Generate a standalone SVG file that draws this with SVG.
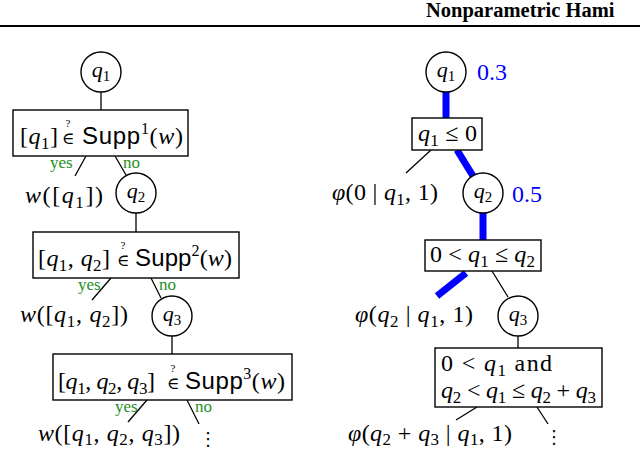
<svg xmlns="http://www.w3.org/2000/svg" width="640" height="450" viewBox="0 0 640 450">
<style>
.m{font-family:"Liberation Serif","DejaVu Serif",serif;font-size:24px;fill:#000}
.c{font-size:22px}
.i{font-style:italic}
.s{font-size:17px}
.cs{font-size:15px}
.sf{font-family:"Liberation Sans",sans-serif}
.sup{font-size:16px}
.el{font-size:17px}
.qm{font-size:11px}
.yn{font-family:"Liberation Serif",serif;font-size:17px;fill:#1f8f1f}
.bl{fill:#0000ff}
.node{fill:#fff;stroke:#000;stroke-width:1.4}
.e{stroke:#000;stroke-width:1.3;fill:none}
.hl{stroke:#0000ff;stroke-width:7;fill:none}
.dots{font-family:"DejaVu Sans",sans-serif;font-size:18px;fill:#000}
</style>

<g id="header">
<text x="426" y="17" font-family="Liberation Serif, serif" font-weight="bold" font-size="20.5">Nonparametric Hami</text>
<line x1="0" y1="26" x2="640" y2="26" stroke="#000" stroke-width="2"/>
</g>

<g id="connectors">
<!-- left tree -->
<line class="e" x1="101" y1="92" x2="101" y2="110"/>
<line class="e" x1="86" y1="156" x2="75" y2="176"/>
<line class="e" x1="115" y1="156" x2="126" y2="175"/>
<line class="e" x1="136" y1="213" x2="136" y2="232"/>
<line class="e" x1="111" y1="278" x2="92" y2="300"/>
<line class="e" x1="151" y1="278" x2="161" y2="298"/>
<line class="e" x1="172" y1="336" x2="172" y2="354"/>
<line class="e" x1="147" y1="400" x2="128" y2="422"/>
<line class="e" x1="187" y1="400" x2="199" y2="424"/>
<!-- right tree -->
<line class="hl" x1="446" y1="92" x2="446" y2="118"/>
<line class="e" x1="431" y1="150" x2="406" y2="173"/>
<line class="hl" x1="457" y1="150" x2="473" y2="176"/>
<line class="hl" x1="483" y1="213" x2="483" y2="240"/>
<line class="hl" x1="466" y1="273" x2="437" y2="296"/>
<line class="e" x1="492" y1="271" x2="508" y2="297"/>
<line class="e" x1="518" y1="336" x2="518" y2="348"/>
<line class="e" x1="477" y1="407" x2="456" y2="420"/>
<line class="e" x1="537" y1="407" x2="548" y2="424"/>
<!-- edge labels -->
<text class="yn" x="50" y="168">yes</text>
<text class="yn" x="123" y="168">no</text>
<text class="yn" x="78" y="290">yes</text>
<text class="yn" x="159" y="290">no</text>
<text class="yn" x="115" y="412">yes</text>
<text class="yn" x="195" y="412">no</text>
</g>

<!-- left tree nodes -->
<g id="L_q1">
<circle class="node" cx="101" cy="72" r="20"/>
<text class="m c" x="101" y="77" text-anchor="middle"><tspan class="i">q</tspan><tspan class="cs" dy="4">1</tspan></text>
</g>
<g id="L_test1">
<rect class="node" x="13" y="110" width="175" height="46"/>
<text class="m" x="20" y="144" textLength="38" lengthAdjust="spacing">[<tspan class="i">q</tspan><tspan class="s" dy="5">1</tspan><tspan dy="-5">]</tspan></text>
<text class="m qm" x="68" y="127" text-anchor="middle">?</text>
<text class="m el" x="68" y="144" text-anchor="middle">∈</text>
<text class="m" x="82" y="144" textLength="101" lengthAdjust="spacing"><tspan class="sf">Supp</tspan><tspan class="sup" dy="-10">1</tspan><tspan dy="10">(</tspan><tspan class="i">w</tspan>)</text>
</g>
<g id="L_leaf1">
<text class="m" x="25" y="203" textLength="78" lengthAdjust="spacing"><tspan class="i">w</tspan>([<tspan class="i">q</tspan><tspan class="s" dy="5">1</tspan><tspan dy="-5">])</tspan></text>
</g>
<g id="L_q2">
<circle class="node" cx="136" cy="193" r="20"/>
<text class="m c" x="136" y="198" text-anchor="middle"><tspan class="i">q</tspan><tspan class="cs" dy="4">2</tspan></text>
</g>
<g id="L_test2">
<rect class="node" x="33" y="232" width="206" height="46"/>
<text class="m" x="38" y="266" textLength="72" lengthAdjust="spacing">[<tspan class="i">q</tspan><tspan class="s" dy="5">1</tspan><tspan dy="-5">, </tspan><tspan class="i">q</tspan><tspan class="s" dy="5">2</tspan><tspan dy="-5">]</tspan></text>
<text class="m qm" x="123" y="249" text-anchor="middle">?</text>
<text class="m el" x="123" y="266" text-anchor="middle">∈</text>
<text class="m" x="135" y="266" textLength="97" lengthAdjust="spacing"><tspan class="sf">Supp</tspan><tspan class="sup" dy="-10">2</tspan><tspan dy="10">(</tspan><tspan class="i">w</tspan>)</text>
</g>
<g id="L_leaf2">
<text class="m" x="20" y="322" textLength="108" lengthAdjust="spacing"><tspan class="i">w</tspan>([<tspan class="i">q</tspan><tspan class="s" dy="5">1</tspan><tspan dy="-5">, </tspan><tspan class="i">q</tspan><tspan class="s" dy="5">2</tspan><tspan dy="-5">])</tspan></text>
</g>
<g id="L_q3">
<circle class="node" cx="172" cy="316" r="20"/>
<text class="m c" x="172" y="321" text-anchor="middle"><tspan class="i">q</tspan><tspan class="cs" dy="4">3</tspan></text>
</g>
<g id="L_test3">
<rect class="node" x="53" y="354" width="239" height="46"/>
<text class="m" x="58" y="389" textLength="97" lengthAdjust="spacing">[<tspan class="i">q</tspan><tspan class="s" dy="5">1</tspan><tspan dy="-5">, </tspan><tspan class="i">q</tspan><tspan class="s" dy="5">2</tspan><tspan dy="-5">, </tspan><tspan class="i">q</tspan><tspan class="s" dy="5">3</tspan><tspan dy="-5">]</tspan></text>
<text class="m qm" x="173" y="372" text-anchor="middle">?</text>
<text class="m el" x="173" y="389" text-anchor="middle">∈</text>
<text class="m" x="185" y="389" textLength="100" lengthAdjust="spacing"><tspan class="sf">Supp</tspan><tspan class="sup" dy="-10">3</tspan><tspan dy="10">(</tspan><tspan class="i">w</tspan>)</text>
</g>
<g id="L_leaf3">
<text class="m" x="38" y="441" textLength="142" lengthAdjust="spacing"><tspan class="i">w</tspan>([<tspan class="i">q</tspan><tspan class="s" dy="4">1</tspan><tspan dy="-4">, </tspan><tspan class="i">q</tspan><tspan class="s" dy="4">2</tspan><tspan dy="-4">, </tspan><tspan class="i">q</tspan><tspan class="s" dy="4">3</tspan><tspan dy="-4">])</tspan></text>
</g>
<g id="L_more">
<text class="dots" x="208" y="445" text-anchor="middle">⋮</text>
</g>

<!-- right tree nodes -->
<g id="R_q1">
<circle class="node" cx="446" cy="72" r="20"/>
<text class="m c" x="446" y="77" text-anchor="middle"><tspan class="i">q</tspan><tspan class="cs" dy="4">1</tspan></text>
<text class="m bl" x="477" y="80" textLength="30" lengthAdjust="spacing">0.3</text>
</g>
<g id="R_test1">
<rect class="node" x="412" y="118" width="70" height="32"/>
<text class="m" x="418" y="141" textLength="59" lengthAdjust="spacing"><tspan class="i">q</tspan><tspan class="s" dy="5">1</tspan><tspan dy="-5"> ≤ 0</tspan></text>
</g>
<g id="R_leaf1">
<text class="m" x="332" y="200" textLength="106" lengthAdjust="spacing"><tspan class="i">φ</tspan>(0 | <tspan class="i">q</tspan><tspan class="s" dy="5">1</tspan><tspan dy="-5">, 1)</tspan></text>
</g>
<g id="R_q2">
<circle class="node" cx="483" cy="193" r="20"/>
<text class="m c" x="483" y="198" text-anchor="middle"><tspan class="i">q</tspan><tspan class="cs" dy="4">2</tspan></text>
<text class="m bl" x="512" y="202" textLength="30" lengthAdjust="spacing">0.5</text>
</g>
<g id="R_test2">
<rect class="node" x="425" y="240" width="116" height="31"/>
<text class="m" x="430" y="262" textLength="105" lengthAdjust="spacing">0 &lt; <tspan class="i">q</tspan><tspan class="s" dy="5">1</tspan><tspan dy="-5"> ≤ </tspan><tspan class="i">q</tspan><tspan class="s" dy="5">2</tspan></text>
</g>
<g id="R_leaf2">
<text class="m" x="355" y="322" textLength="118" lengthAdjust="spacing"><tspan class="i">φ</tspan>(<tspan class="i">q</tspan><tspan class="s" dy="5">2</tspan><tspan dy="-5"> | </tspan><tspan class="i">q</tspan><tspan class="s" dy="5">1</tspan><tspan dy="-5">, 1)</tspan></text>
</g>
<g id="R_q3">
<circle class="node" cx="518" cy="316" r="20"/>
<text class="m c" x="518" y="321" text-anchor="middle"><tspan class="i">q</tspan><tspan class="cs" dy="4">3</tspan></text>
</g>
<g id="R_test3">
<rect class="node" x="435" y="348" width="167" height="59"/>
<text class="m" x="441" y="371" textLength="111" lengthAdjust="spacing">0  &lt;  <tspan class="i">q</tspan><tspan class="s" dy="5">1</tspan><tspan dy="-5">  and</tspan></text>
<text class="m" x="441" y="398" textLength="155" lengthAdjust="spacing"><tspan class="i">q</tspan><tspan class="s" dy="5">2</tspan><tspan dy="-5"> &lt; </tspan><tspan class="i">q</tspan><tspan class="s" dy="5">1</tspan><tspan dy="-5"> ≤ </tspan><tspan class="i">q</tspan><tspan class="s" dy="5">2</tspan><tspan dy="-5"> + </tspan><tspan class="i">q</tspan><tspan class="s" dy="5">3</tspan></text>
</g>
<g id="R_leaf3">
<text class="m" x="348" y="441" textLength="164" lengthAdjust="spacing"><tspan class="i">φ</tspan>(<tspan class="i">q</tspan><tspan class="s" dy="4">2</tspan><tspan dy="-4"> + </tspan><tspan class="i">q</tspan><tspan class="s" dy="4">3</tspan><tspan dy="-4"> | </tspan><tspan class="i">q</tspan><tspan class="s" dy="4">1</tspan><tspan dy="-4">, 1)</tspan></text>
</g>
<g id="R_more">
<text class="dots" x="554" y="443" text-anchor="middle">⋮</text>
</g>
</svg>
